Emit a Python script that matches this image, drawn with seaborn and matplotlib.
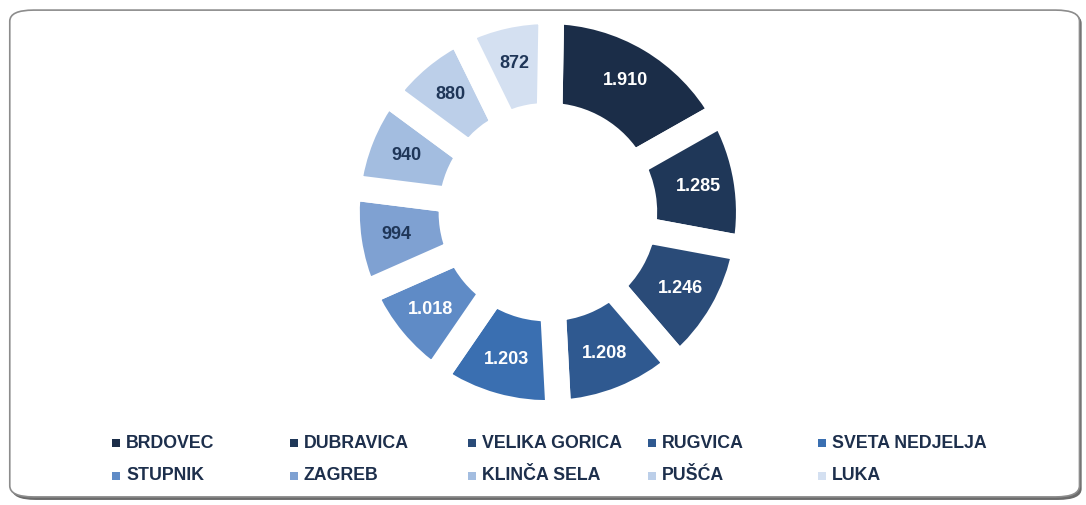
import matplotlib
matplotlib.use("Agg")
import matplotlib.pyplot as plt
from matplotlib.patches import FancyBboxPatch, Rectangle
import seaborn as sns

places = ["BRDOVEC", "DUBRAVICA", "VELIKA GORICA", "RUGVICA", "SVETA NEDJELJA",
          "STUPNIK", "ZAGREB", "KLINČA SELA", "PUŠĆA", "LUKA"]
counts = [1910, 1285, 1246, 1208, 1203, 1018, 994, 940, 880, 872]
colors = ["#1b2d48", "#1f3758", "#2a4b78", "#2f5990", "#3a6fb1",
          "#5f8bc6", "#7fa1d2", "#a3bde0", "#bccfe9", "#d4e0f1"]
label_colors = ["white"] * 6 + ["#1f3658"] * 4

sns.set_theme(style="white")
plt.rcParams['font.family'] = ['Liberation Sans', 'DejaVu Sans']

fig = plt.figure(figsize=(10.86, 5.05), dpi=100)

# rounded frame with a soft shadow; fill behind the axes, border on top
box = dict(boxstyle="round,pad=0,rounding_size=0.022", transform=fig.transFigure)
shadow = FancyBboxPatch((0.011, 0.010), 0.985, 0.966, facecolor="#6b6b6b",
                        edgecolor="none", zorder=-2, **box)
fill = FancyBboxPatch((0.009, 0.016), 0.985, 0.964, facecolor="white",
                      edgecolor="none", zorder=-1, **box)
border = FancyBboxPatch((0.009, 0.016), 0.985, 0.964, facecolor="none",
                        edgecolor="#8c8c8c", linewidth=1.2, zorder=5, **box)
fig.patches.extend([shadow, fill, border])

ax = fig.add_axes([0.3195, 0.182, 0.370, 0.796])
ax.patch.set_alpha(0)
wedges, texts, autotexts = ax.pie(
    counts, colors=colors, startangle=89, counterclock=False,
    autopct=lambda p: "", pctdistance=0.76,
    wedgeprops=dict(width=0.52, edgecolor="white", linewidth=18.5))
for t, v, c in zip(autotexts, counts, label_colors):
    t.set_text(f"{v:,}".replace(",", "."))
    t.set_color(c)
    t.set_fontsize(13)
    t.set_fontweight("bold")
ax.set_xlim(-1, 1)
ax.set_ylim(-1, 1)
ax.set_aspect("equal")
ax.axis("off")

# legend, two rows of five, laid out like the original
col_x = [112, 290, 468, 648, 818]
row_y = [443, 476]
W, H = 1086, 505
for i, (name, col) in enumerate(zip(places, colors)):
    x = col_x[i % 5]
    y = row_y[i // 5]
    fig.patches.append(Rectangle((x / W, 1 - (y + 4) / H), 8 / W, 8 / H,
                                 transform=fig.transFigure, facecolor=col,
                                 edgecolor="none"))
    fig.text((x + 14) / W, 1 - y / H, name, fontsize=12.8, fontweight="bold",
             color="#1d2f4c", va="center", ha="left")

fig.savefig("out.png", dpi=100)
